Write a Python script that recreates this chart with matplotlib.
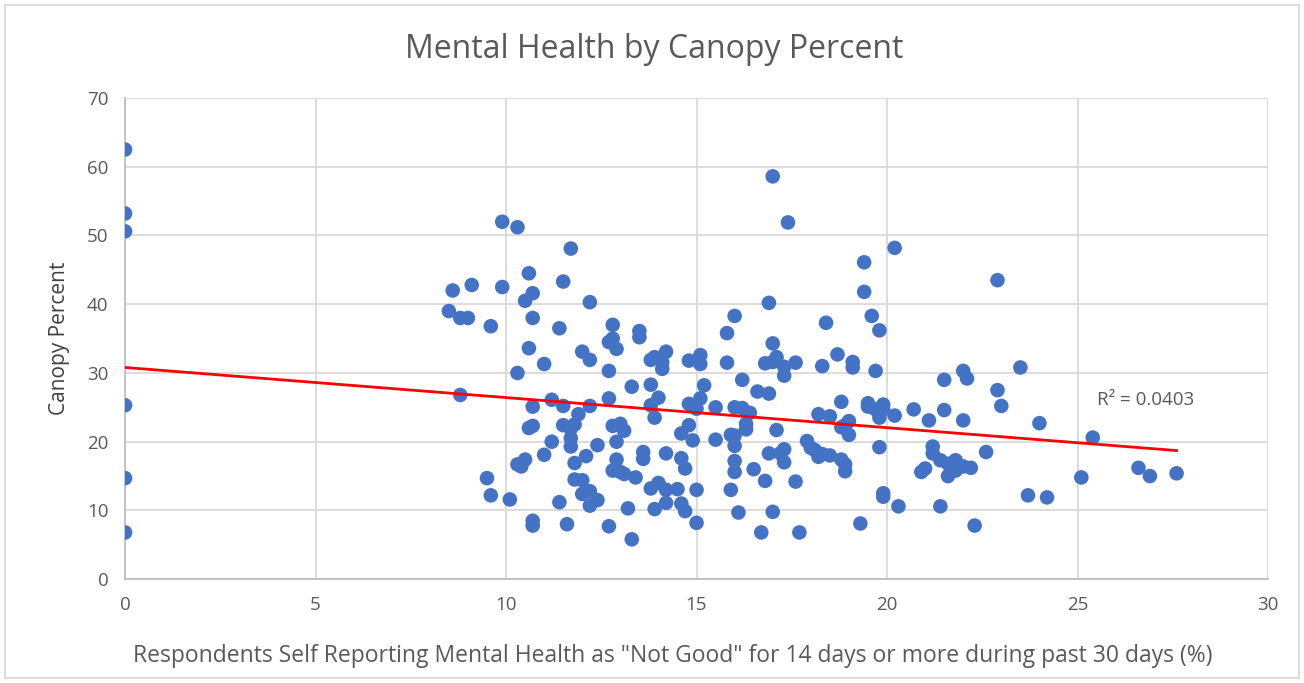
import matplotlib

matplotlib.use("Agg")

import matplotlib.pyplot as plt
import numpy as np

# respondents reporting "not good" mental health (%) vs canopy percent
mental_pct = [
    0, 0, 0, 0, 0, 0,
    8.5, 8.6, 8.8, 9.0, 9.1, 9.6, 8.8, 9.5, 9.6, 9.9, 9.9, 10.1, 10.3, 10.3,
    10.3, 10.4, 10.5, 10.5, 10.6, 10.6, 10.6, 10.7, 10.7, 10.7, 10.7, 10.7, 10.7,
    11.0, 11.0, 11.2, 11.2, 11.4, 11.4, 11.5, 11.5, 11.5, 11.6, 11.7, 11.7, 11.7,
    11.7, 11.8, 11.8, 11.8, 11.9, 12.0, 12.0, 12.0, 12.1, 12.2, 12.2, 12.2, 12.2,
    12.2, 12.4, 12.4, 12.7, 12.7, 12.7, 12.7, 12.8, 12.8, 12.8, 12.8, 12.9, 12.9,
    12.9, 13.0, 13.0, 13.1, 13.1, 13.2, 13.3, 13.3, 13.4, 13.5, 13.5, 13.6, 13.6,
    13.8, 13.8, 13.8, 13.8, 13.9, 13.9, 13.9, 14.0, 14.0, 14.1, 14.1, 14.2, 14.2,
    14.2, 14.2, 14.6, 14.6, 14.5, 14.6, 14.7, 14.7, 14.8, 14.8, 14.8, 14.9, 15.0,
    15.0, 15.0, 15.1, 15.1, 15.1, 15.2, 15.5, 15.5, 15.8, 15.8, 15.9, 15.9, 16.0,
    16.0, 16.0, 16.0, 16.0, 16.0, 16.1, 16.2, 16.2, 16.3, 16.3, 16.4, 16.5, 16.6,
    16.7, 16.8, 16.8, 16.9, 16.9, 16.9, 17.0, 17.0, 17.0, 17.0, 17.1, 17.1, 17.2,
    17.3, 17.3, 17.3, 17.3, 17.4, 17.6, 17.6, 17.7, 17.9, 18.0, 18.1, 18.2, 18.2,
    18.3, 18.3, 18.4, 18.5, 18.5, 18.7, 18.8, 18.8, 18.8, 18.9, 18.9, 18.9, 19.0,
    19.0, 19.1, 19.1, 19.3, 19.4, 19.4, 19.5, 19.5, 19.6, 19.7, 19.7, 19.8, 19.8,
    19.8, 19.9, 19.9, 19.9, 19.9, 20.2, 20.2, 20.3, 20.7, 20.9, 21.1, 21.0, 21.2,
    21.2, 21.4, 21.4, 21.5, 21.5, 21.6, 21.6, 21.8, 21.8, 22.0, 22.0, 22.0, 22.1,
    22.2, 22.3, 22.6, 22.9, 22.9, 23.0, 23.5, 23.7, 24.0, 24.2, 25.1, 25.4, 26.6,
    26.9, 27.6,
]
canopy_pct = [
    62.5, 53.2, 50.6, 25.3, 14.7, 6.8,
    39.0, 42.0, 38.0, 38.0, 42.8, 36.8, 26.8, 14.7, 12.2, 42.5, 52.0, 11.6, 51.2, 30.0,
    16.7, 16.4, 40.5, 17.4, 44.5, 33.6, 22.0, 22.3, 41.6, 38.0, 25.1, 8.5, 7.8,
    31.3, 18.1, 26.1, 20.0, 36.5, 11.2, 43.3, 25.2, 22.4, 8.0, 48.1, 21.9, 20.5,
    19.3, 22.5, 16.9, 14.5, 24.0, 14.4, 12.4, 33.1, 17.9, 40.3, 31.9, 25.2, 12.8,
    10.7, 19.5, 11.5, 30.3, 26.3, 7.7, 34.5, 37.0, 35.0, 22.3, 15.8, 33.5, 20.0,
    17.4, 22.6, 15.6, 21.6, 15.3, 10.3, 5.8, 28.0, 14.8, 36.1, 35.2, 18.5, 17.5,
    31.9, 28.3, 25.3, 13.2, 32.3, 23.5, 10.2, 26.4, 14.0, 30.6, 31.6, 33.1, 18.3,
    13.0, 11.1, 21.2, 17.6, 13.1, 11.0, 16.1, 9.9, 31.8, 22.4, 25.5, 20.2, 24.8,
    13.0, 8.2, 32.6, 31.3, 26.3, 28.2, 25.0, 20.3, 35.8, 31.5, 21.0, 13.0, 38.3,
    25.0, 20.9, 19.4, 17.2, 15.6, 9.7, 29.0, 24.9, 22.6, 21.8, 24.2, 16.0, 27.3,
    6.8, 31.4, 14.3, 40.2, 27.0, 18.3, 58.6, 34.3, 31.6, 9.8, 32.3, 21.7, 18.3,
    18.9, 29.6, 30.9, 17.0, 51.9, 31.5, 14.2, 6.8, 20.1, 19.1, 18.8, 17.8, 24.0,
    31.0, 18.2, 37.3, 23.7, 18.0, 32.7, 25.8, 22.1, 17.4, 16.7, 15.7, 22.4, 23.0,
    21.0, 31.6, 30.8, 8.1, 46.1, 41.8, 25.6, 25.1, 38.3, 30.3, 24.7, 36.2, 23.5,
    19.2, 25.4, 24.7, 12.5, 12.0, 48.2, 23.8, 10.6, 24.7, 15.6, 23.1, 16.1, 19.3,
    18.3, 10.6, 17.3, 29.0, 24.6, 16.8, 15.0, 15.8, 17.3, 16.4, 23.1, 30.3, 29.2,
    16.2, 7.8, 18.5, 43.5, 27.5, 25.2, 30.8, 12.2, 22.7, 11.9, 14.8, 20.6, 16.2,
    15.0, 15.4,
]
# linear trendline as shown on the chart
trend_intercept = 30.8
trend_slope = -0.438
r_squared_label = "R² = 0.0403"

TEXT_GREY = "#595959"
GRID_GREY = "#D9D9D9"

plt.rcParams["font.family"] = ["Open Sans", "DejaVu Sans"]

fig = plt.figure(figsize=(13.04, 6.83), dpi=100)
ax = fig.add_axes([0.0959, 0.152, 0.8765, 0.7045])

x = np.asarray(mental_pct, dtype=float)
y = np.asarray(canopy_pct, dtype=float)
ax.scatter(x, y, s=110, color="#4472C4", edgecolors="none", zorder=3)

xs = np.array([x.min(), x.max()])
ax.plot(xs, trend_intercept + trend_slope * xs, color="#FF0000", linewidth=2.0, zorder=4)
ax.text(25.5, 26, r_squared_label, fontsize=13.5, color=TEXT_GREY, va="center")

ax.set_xlim(0, 30)
ax.set_ylim(0, 70)
ax.set_xticks(np.arange(0, 31, 5))
ax.set_yticks(np.arange(0, 71, 10))
ax.grid(color=GRID_GREY, linewidth=1.3)
ax.set_axisbelow(True)
for side in ["top", "right"]:
    ax.spines[side].set_visible(False)
for side in ["left", "bottom"]:
    ax.spines[side].set_color("#BFBFBF")
    ax.spines[side].set_linewidth(1.3)
ax.tick_params(length=0, labelsize=13.5, colors=TEXT_GREY, pad=12)

ax.set_xlabel(
    'Respondents Self Reporting Mental Health as "Not Good" for 14 days or more during past 30 days (%)',
    fontsize=16.5, color=TEXT_GREY,
)
ax.xaxis.set_label_coords(0.479, -0.135)
ax.set_ylabel("Canopy Percent", fontsize=15, color="#404040", labelpad=12)
fig.text(0.502, 0.928, "Mental Health by Canopy Percent", fontsize=23,
         color=TEXT_GREY, ha="center", va="center")

border = plt.Rectangle((0.004, 0.008), 0.992, 0.985, transform=fig.transFigure,
                       fill=False, edgecolor=GRID_GREY, linewidth=1.3)
fig.patches.append(border)

fig.savefig("out.png", dpi=100)
